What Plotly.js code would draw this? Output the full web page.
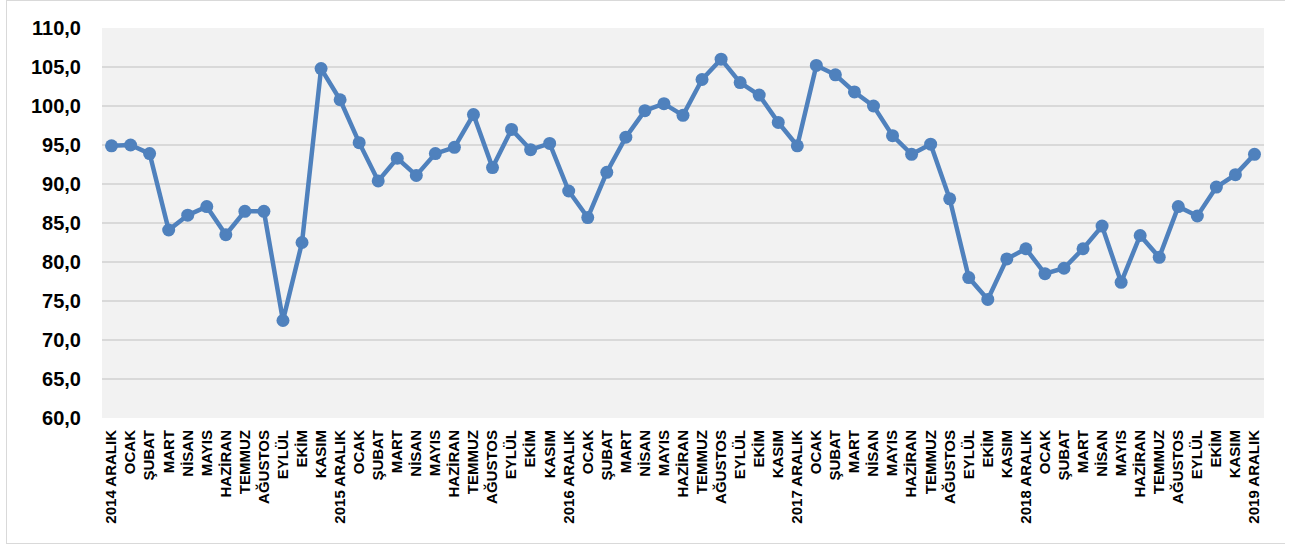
<!DOCTYPE html>
<html>
<head>
<meta charset="utf-8">
<script src="https://cdn.plot.ly/plotly-3.0.1.min.js"></script>
<style>
  html, body { margin: 0; padding: 0; background: #ffffff; }
  #chart { width: 1292px; height: 547px; position: absolute; left: 0; top: 0; }
  #frame { position: absolute; left: 6px; top: 0px; width: 1278px; height: 542px;
           border: 1px solid #d9d9d9; border-right: none; pointer-events: none; }
</style>
</head>
<body>
<div id="chart"></div>
<div id="frame"></div>
<script>
const labels = [
  "2014 ARALIK","OCAK","ŞUBAT","MART","NİSAN","MAYIS","HAZİRAN","TEMMUZ","AĞUSTOS","EYLÜL","EKİM","KASIM",
  "2015 ARALIK","OCAK","ŞUBAT","MART","NİSAN","MAYIS","HAZİRAN","TEMMUZ","AĞUSTOS","EYLÜL","EKİM","KASIM",
  "2016 ARALIK","OCAK","ŞUBAT","MART","NİSAN","MAYIS","HAZİRAN","TEMMUZ","AĞUSTOS","EYLÜL","EKİM","KASIM",
  "2017 ARALIK","OCAK","ŞUBAT","MART","NİSAN","MAYIS","HAZİRAN","TEMMUZ","AĞUSTOS","EYLÜL","EKİM","KASIM",
  "2018 ARALIK","OCAK","ŞUBAT","MART","NİSAN","MAYIS","HAZİRAN","TEMMUZ","AĞUSTOS","EYLÜL","EKİM","KASIM",
  "2019 ARALIK"
];
const values = [
  94.9, 95.0, 93.9, 84.1, 86.0, 87.1, 83.5, 86.5, 86.5, 72.5, 82.5, 104.8,
  100.8, 95.3, 90.4, 93.3, 91.1, 93.9, 94.7, 98.9, 92.1, 97.0, 94.4, 95.2,
  89.1, 85.7, 91.5, 96.0, 99.4, 100.3, 98.8, 103.4, 106.0, 103.0, 101.4, 97.9,
  94.9, 105.2, 104.0, 101.8, 100.0, 96.2, 93.8, 95.1, 88.1, 78.0, 75.2, 80.4,
  81.7, 78.5, 79.2, 81.7, 84.6, 77.4, 83.4, 80.6, 87.1, 85.9, 89.6, 91.2,
  93.8
];
const yTicks = [60, 65, 70, 75, 80, 85, 90, 95, 100, 105, 110];

const xIdx = labels.map((_, i) => i);

const trace = {
  x: xIdx,
  y: values,
  type: 'scatter',
  mode: 'lines+markers',
  line: { color: '#4f81bd', width: 4.5 },
  marker: { color: '#4f81bd', size: 13 },
  hoverinfo: 'y'
};

const layout = {
  width: 1292,
  height: 547,
  margin: { l: 102, r: 28, t: 28, b: 129 },
  paper_bgcolor: '#ffffff',
  plot_bgcolor: '#f2f2f2',
  separators: ',.',
  showlegend: false,
  font: { family: "'Liberation Sans', Arial, sans-serif", color: '#000000' },
  xaxis: {
    range: [-0.5, labels.length - 0.5],
    tickmode: 'array',
    tickvals: xIdx,
    ticktext: labels,
    tickangle: -90,
    tickfont: { family: "'Liberation Sans', Arial, sans-serif", size: 15, weight: 'bold', color: '#000000' },
    showgrid: false,
    zeroline: false,
    showline: false,
    ticks: '',
    ticklabelstandoff: 8,
    fixedrange: true
  },
  yaxis: {
    range: [60, 110],
    tickmode: 'array',
    tickvals: yTicks,
    ticktext: yTicks.map(v => v.toFixed(1).replace('.', ',')),
    tickfont: { family: "'Liberation Sans', Arial, sans-serif", size: 20, weight: 'bold', color: '#000000' },
    showgrid: true,
    gridcolor: '#d9d9d9',
    gridwidth: 2,
    zeroline: false,
    showline: false,
    ticks: '',
    ticklabelstandoff: 20,
    fixedrange: true
  }
};

Plotly.newPlot('chart', [trace], layout, { displayModeBar: false, staticPlot: true });
</script>
</body>
</html>
